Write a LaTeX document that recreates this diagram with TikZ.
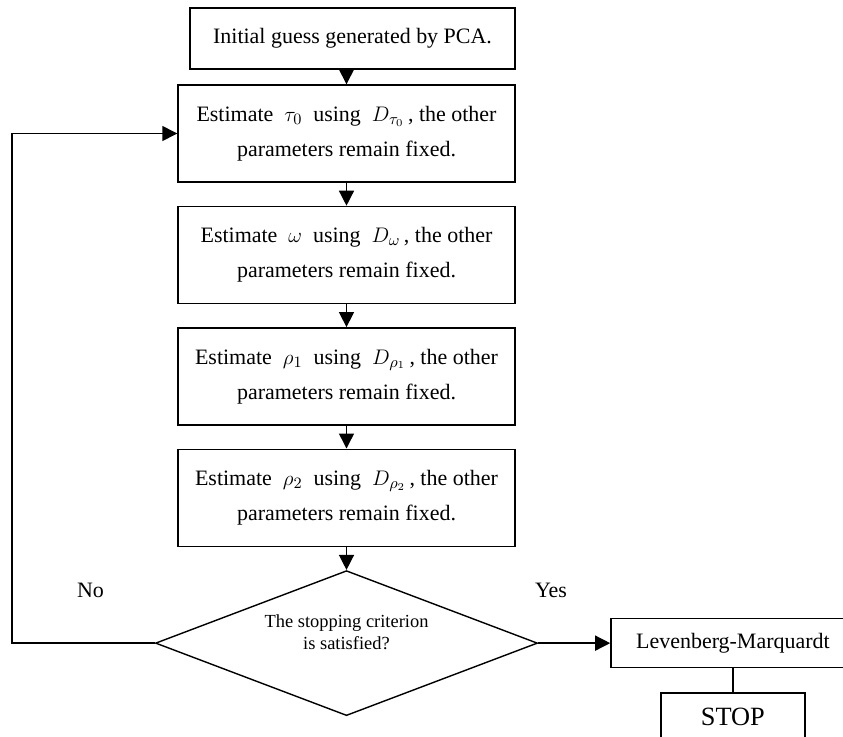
\documentclass[tikz,border=0pt]{standalone}
\usepackage{fontspec}
\setmainfont{Liberation Serif}
\usepackage{tikz}
\usetikzlibrary{arrows.meta,positioning,shapes.geometric}

\begin{document}
\begin{tikzpicture}[
  node distance=4.6mm,
  box/.style={draw, line width=0.8pt, align=center, minimum width=6.74cm,
              minimum height=1.94cm, inner sep=0pt,
              font=\fontsize{12.5}{20}\selectfont},
  dec/.style={draw, line width=0.8pt, diamond, aspect=2.63, inner sep=0pt,
              minimum width=7.64cm, minimum height=2.9cm, align=center,
              text depth=0.44cm, font=\fontsize{10.5}{12.5}\selectfont},
  arr/.style={-{Triangle[length=3mm,width=3mm]}, line width=0.8pt},
  lbl/.style={font=\fontsize{12.5}{15}\selectfont}
]
\useasboundingbox (0,0) rectangle (16.86,-14.72);
\node[box, minimum width=6.5cm, minimum height=1.22cm] (init) at (7.05,-0.77)
  {Initial guess generated by PCA.};
\node[box] (tau) at (6.93,-2.67)
  {Estimate~~$\tau_0$~~using~~$D_{\tau_0}$\,, the other\\parameters remain fixed.};
\node[box, below=of tau] (omega)
  {Estimate~~$\omega$~~using~~$D_{\omega}$\,, the other\\parameters remain fixed.};
\node[box, below=of omega] (rhoone)
  {Estimate~~$\rho_1$~~using~~$D_{\rho_1}$\,, the other\\parameters remain fixed.};
\node[box, below=of rhoone] (rhotwo)
  {Estimate~~$\rho_2$~~using~~$D_{\rho_2}$\,, the other\\parameters remain fixed.};
\node[dec, below=of rhotwo] (crit) {The stopping criterion\\is satisfied?};
\node[box, minimum width=4.88cm, minimum height=0.98cm, right=1.44cm of crit] (lm)
  {Levenberg-Marquardt};
\node[box, minimum width=2.88cm, minimum height=0.96cm, below=0.48cm of lm,
      font=\fontsize{15}{18}\selectfont] (stop) {STOP};
\node[lbl] (no) at (1.81,-11.8) {No};
\node[lbl] (yes) at (11.02,-11.8) {Yes};
\coordinate (back) at (0.24,-2.67);

\draw[arr] (init.south -| tau.north) -- (tau.north);
\draw[arr] (tau) -- (omega);
\draw[arr] (omega) -- (rhoone);
\draw[arr] (rhoone) -- (rhotwo);
\draw[arr] (rhotwo) -- (crit);
\draw[arr] (crit.west) -| (back) -- (tau.west);
\draw[arr] (crit.east) -- (lm.west);
\draw[line width=0.8pt] (lm) -- (stop);
\end{tikzpicture}
\end{document}
